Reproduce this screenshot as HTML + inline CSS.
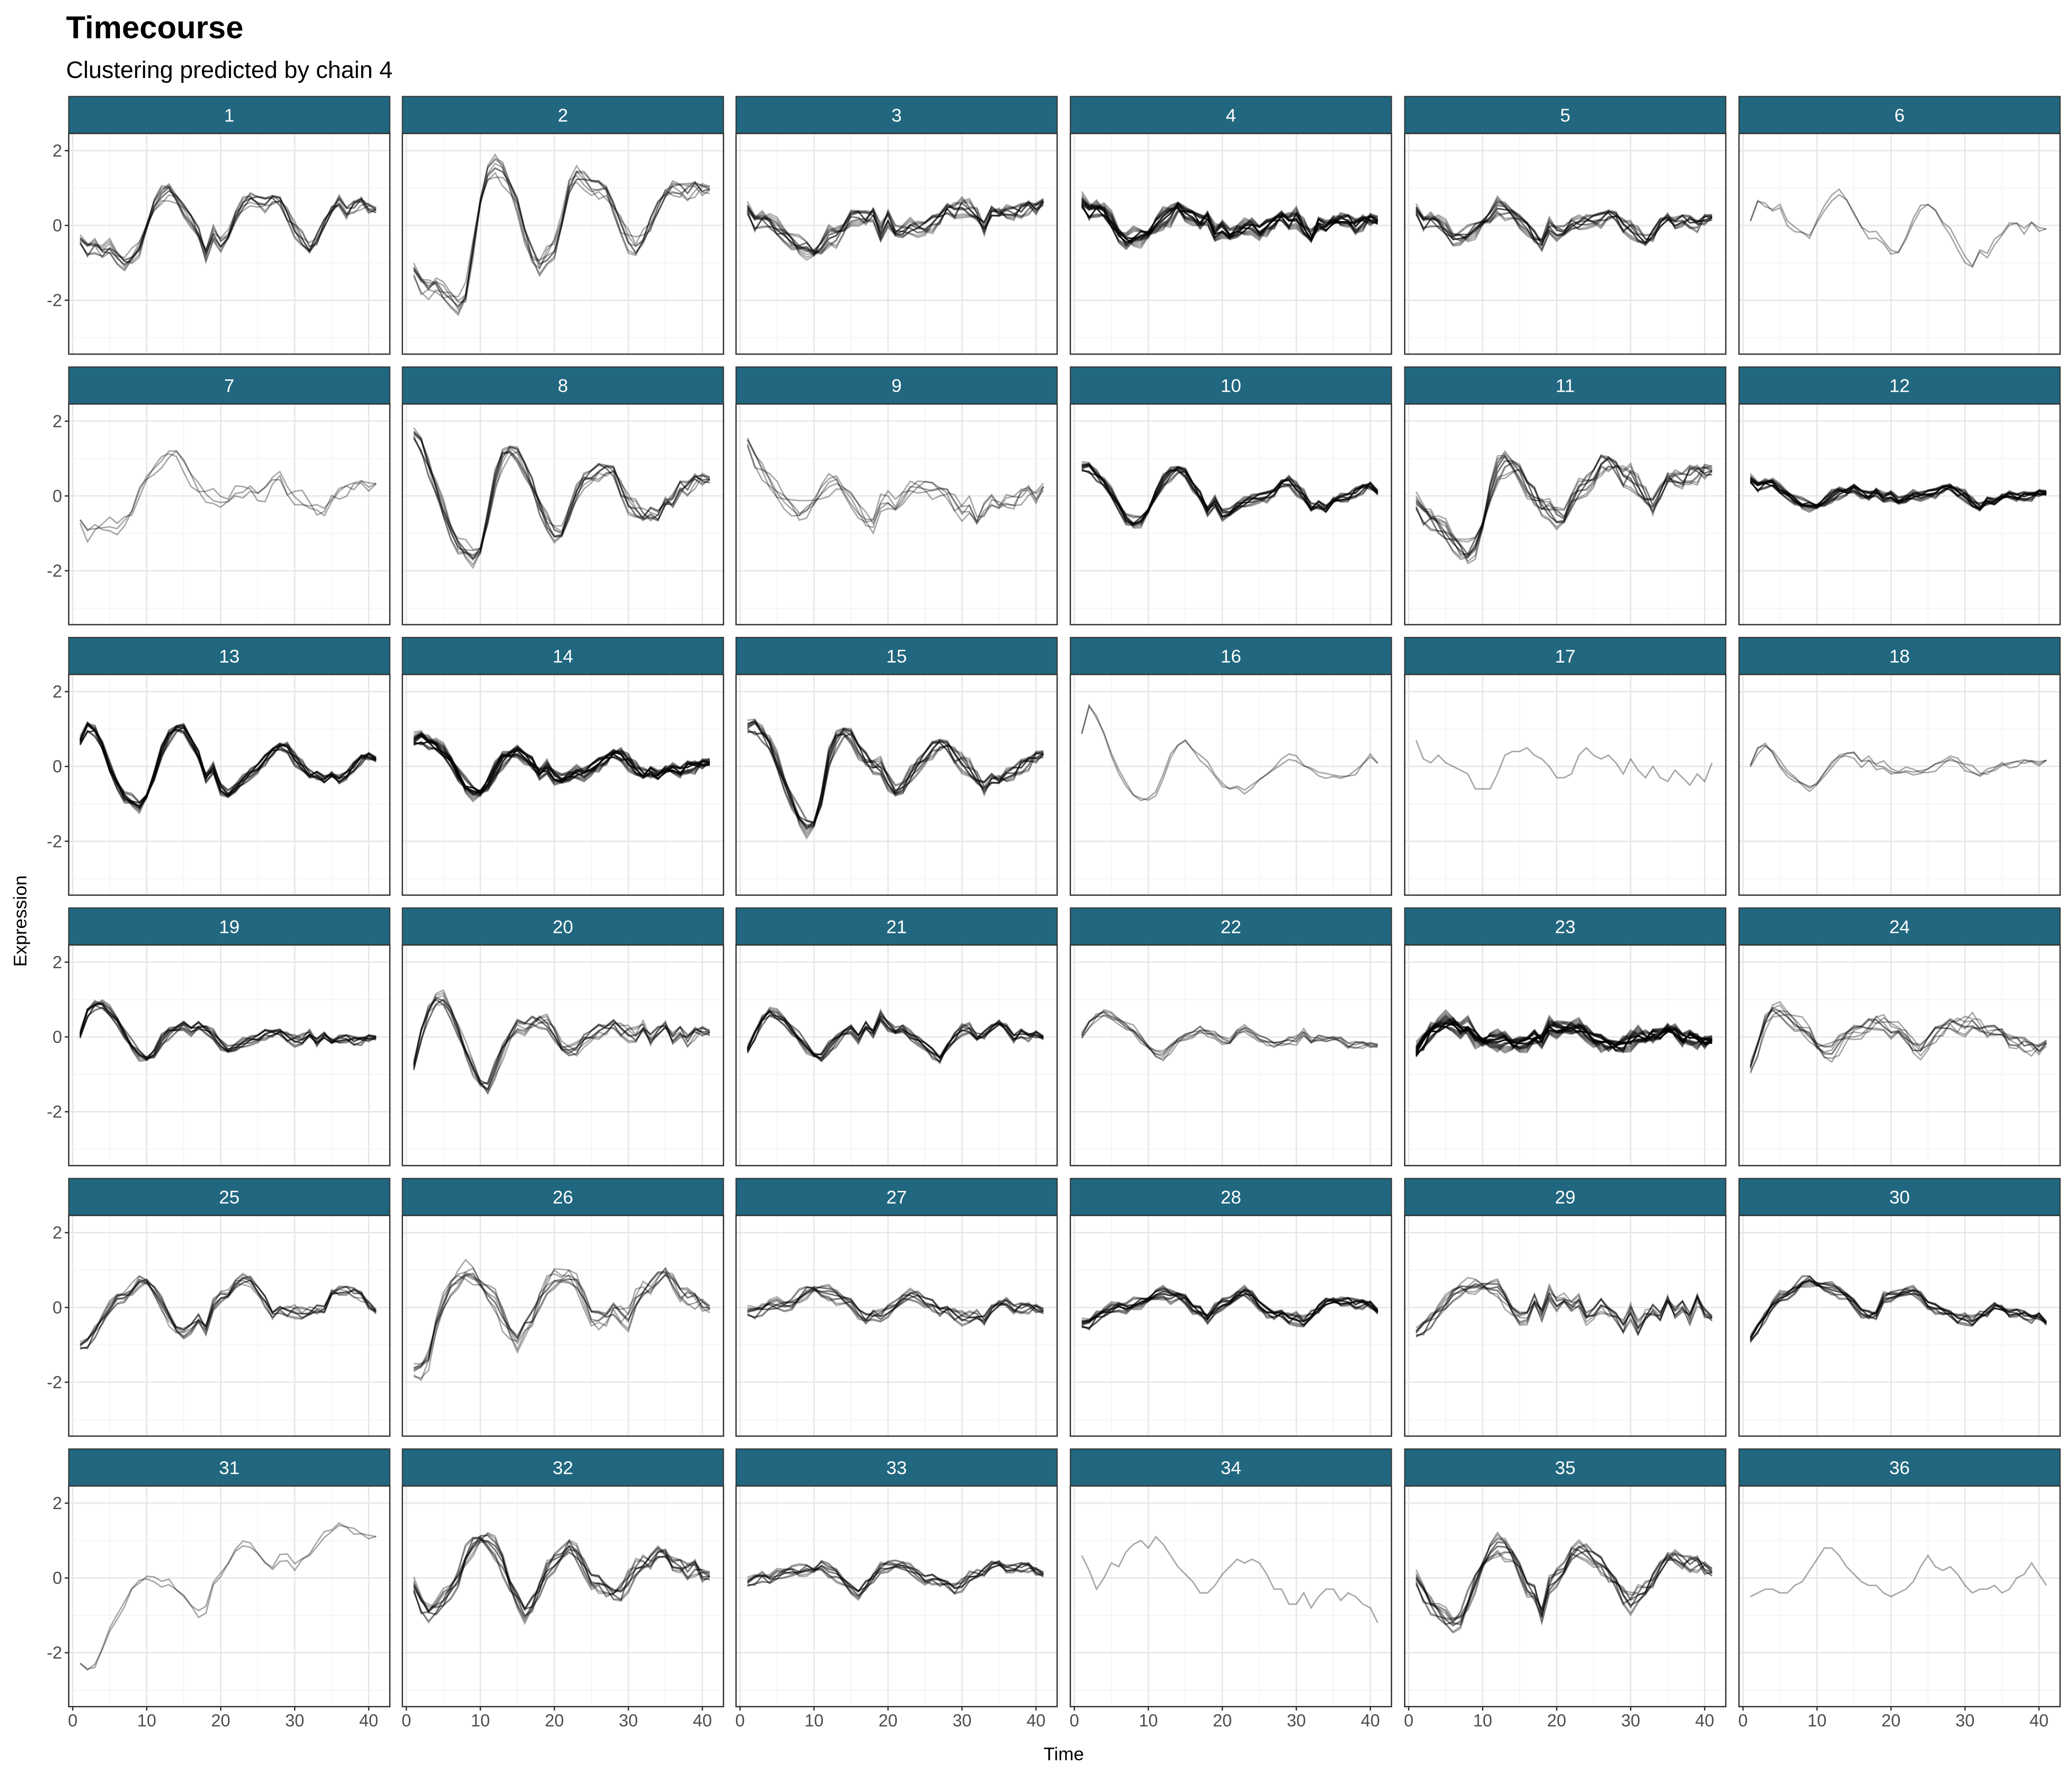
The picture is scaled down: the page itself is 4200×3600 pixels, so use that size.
<!DOCTYPE html>
<html><head><meta charset="utf-8"><style>
html,body{margin:0;padding:0;background:#fff;}
svg{display:block;font-family:"Liberation Sans",Arial,sans-serif;}
</style></head><body>
<svg id="chart" xmlns="http://www.w3.org/2000/svg" width="4200" height="3600" viewBox="0 0 1568 1344" preserveAspectRatio="none">
<rect x="0" y="0" width="1568" height="1344" fill="#fff"/>
<text x="50" y="29" font-size="24" font-weight="bold" fill="#000">Timecourse</text>
<text x="50" y="59" font-size="18" fill="#000">Clustering predicted by chain 4</text>
<text x="805" y="1332" font-size="14" text-anchor="middle" fill="#000">Time</text>
<text transform="translate(20,697) rotate(-90)" font-size="14" text-anchor="middle" fill="#000">Expression</text>
<g id="panels"></g>
</svg>
<script>
const clusterLabels = ["1","2","3","4","5","6","7","8","9","10","11","12","13","14","15","16","17","18","19","20","21","22","23","24","25","26","27","28","29","30","31","32","33","34","35","36"];
const lineCounts = [10,8,15,30,15,2,3,10,5,20,12,25,20,30,15,2,1,3,15,10,15,6,40,8,10,8,12,20,10,15,2,12,12,1,12,1];
const spreads = [0.25,0.35,0.25,0.18,0.22,0.25,0.3,0.3,0.35,0.15,0.35,0.12,0.15,0.15,0.25,0.2,0,0.15,0.15,0.25,0.15,0.15,0.15,0.3,0.2,0.35,0.2,0.15,0.25,0.15,0.25,0.3,0.18,0,0.3,0];
const xTicks = [0,10,20,30,40];
const yTicks = [-2,0,2];
const profiles = [
[-0.6,-0.7,-0.6,-0.8,-0.7,-0.9,-1.0,-0.8,-0.5,0.1,0.6,0.8,0.9,0.7,0.4,0.2,-0.2,-0.8,-0.3,-0.5,-0.2,0.2,0.5,0.7,0.7,0.6,0.7,0.6,0.3,-0.1,-0.4,-0.6,-0.3,0.0,0.3,0.6,0.4,0.5,0.6,0.5,0.3],
[-1.5,-1.7,-1.8,-1.7,-1.9,-2.0,-2.1,-1.8,-0.5,0.8,1.5,1.6,1.4,1.0,0.5,-0.2,-0.8,-1.1,-0.9,-0.6,0.2,1.0,1.3,1.2,1.1,1.0,0.9,0.4,0.0,-0.4,-0.6,-0.3,0.1,0.4,0.7,0.9,1.0,0.9,1.0,1.0,0.8],
[0.2,0.0,0.1,0.0,-0.2,-0.3,-0.4,-0.5,-0.5,-0.6,-0.5,-0.3,-0.3,-0.1,0.2,0.3,0.2,0.3,-0.3,0.2,-0.1,-0.2,-0.1,-0.1,0.0,0.1,0.2,0.4,0.4,0.5,0.4,0.3,0.0,0.3,0.2,0.3,0.4,0.4,0.5,0.5,0.5],
[0.4,0.3,0.4,0.3,0.0,-0.3,-0.4,-0.3,-0.2,-0.1,0.1,0.2,0.3,0.5,0.3,0.3,0.1,0.2,-0.3,-0.1,-0.2,-0.2,-0.1,0.0,-0.1,0.0,0.1,0.2,0.1,0.2,-0.1,-0.3,0.1,-0.1,0.0,0.1,0.2,0.0,0.1,0.2,0.0],
[0.2,0.0,0.1,0.0,-0.2,-0.4,-0.3,-0.2,0.0,0.2,0.3,0.5,0.4,0.3,0.1,0.0,-0.3,-0.5,-0.1,-0.2,-0.1,0.0,0.0,0.1,0.2,0.2,0.3,0.2,0.0,-0.1,-0.3,-0.4,-0.2,0.0,0.1,0.0,0.2,0.1,0.0,0.2,0.1],
[-0.1,0.5,0.4,0.3,0.5,0.1,0.0,-0.1,-0.2,0.2,0.5,0.7,0.8,0.6,0.2,-0.1,-0.3,-0.2,-0.4,-0.6,-0.6,-0.3,0.1,0.4,0.5,0.3,0.0,-0.2,-0.5,-0.8,-1.0,-0.6,-0.8,-0.5,-0.3,-0.1,0.0,-0.2,0.0,-0.1,-0.2],
[-0.9,-1.1,-1.0,-1.0,-0.9,-0.9,-0.6,-0.3,0.3,0.6,0.7,0.8,1.0,1.1,0.8,0.5,0.2,0.0,-0.1,-0.1,0.0,0.1,0.0,0.1,0.0,0.1,0.4,0.5,0.2,0.0,-0.1,-0.2,-0.3,-0.5,-0.2,0.0,0.2,0.2,0.3,0.3,0.2],
[1.4,1.3,0.7,0.1,-0.5,-1.0,-1.3,-1.4,-1.5,-1.3,-0.5,0.4,1.0,1.2,1.1,0.8,0.3,-0.3,-0.8,-1.0,-0.9,-0.5,0.0,0.4,0.6,0.7,0.7,0.6,0.2,-0.2,-0.4,-0.5,-0.4,-0.6,-0.3,-0.2,0.3,0.2,0.4,0.5,0.3],
[1.2,0.9,0.6,0.3,0.0,-0.2,-0.3,-0.4,-0.2,0.0,0.2,0.3,0.3,0.1,-0.1,-0.3,-0.6,-0.8,-0.3,-0.1,-0.2,-0.1,0.1,0.2,0.3,0.2,0.1,0.0,-0.2,-0.4,-0.3,-0.6,-0.3,-0.2,-0.4,-0.2,-0.1,0.0,0.1,0.0,0.1],
[0.6,0.7,0.5,0.3,0.0,-0.3,-0.6,-0.7,-0.6,-0.3,0.1,0.4,0.6,0.7,0.6,0.3,0.0,-0.4,-0.2,-0.5,-0.4,-0.3,-0.2,-0.1,0.0,0.0,0.1,0.3,0.4,0.2,0.0,-0.3,-0.2,-0.4,-0.2,-0.1,0.0,0.1,0.2,0.3,0.0],
[-0.5,-0.6,-0.7,-0.9,-1.1,-1.3,-1.4,-1.5,-1.2,-0.6,0.2,0.7,0.9,0.8,0.6,0.3,0.0,-0.3,-0.5,-0.6,-0.5,-0.2,0.1,0.3,0.6,0.9,0.9,0.7,0.5,0.5,0.2,0.0,-0.2,0.0,0.3,0.4,0.5,0.6,0.6,0.7,0.5],
[0.3,0.2,0.3,0.3,0.1,0.0,-0.1,-0.2,-0.2,-0.2,-0.1,0.0,0.1,0.1,0.2,0.1,0.0,0.1,-0.1,0.0,-0.1,-0.1,0.0,0.0,0.1,0.1,0.2,0.2,0.1,0.0,-0.2,-0.3,-0.1,-0.2,-0.1,0.0,0.0,0.0,0.0,0.1,0.0],
[0.5,1.0,0.9,0.5,-0.1,-0.5,-0.8,-0.9,-1.0,-0.7,-0.2,0.4,0.8,1.0,1.0,0.7,0.3,-0.3,-0.1,-0.6,-0.7,-0.6,-0.4,-0.2,0.0,0.2,0.4,0.5,0.5,0.2,0.0,-0.2,-0.2,-0.4,-0.3,-0.4,-0.2,0.0,0.2,0.3,0.1],
[0.5,0.7,0.6,0.5,0.3,0.1,-0.2,-0.5,-0.6,-0.6,-0.4,-0.1,0.2,0.3,0.4,0.3,0.1,-0.2,-0.1,-0.3,-0.3,-0.3,-0.2,-0.2,0.0,0.1,0.2,0.3,0.3,0.1,-0.1,-0.2,-0.1,-0.3,-0.2,-0.1,-0.1,0.0,0.0,0.1,0.0],
[0.8,1.0,0.8,0.5,0.0,-0.5,-0.9,-1.3,-1.5,-1.4,-0.8,0.2,0.7,0.9,0.8,0.5,0.2,0.0,-0.1,-0.4,-0.6,-0.6,-0.3,0.0,0.3,0.5,0.6,0.5,0.3,0.1,-0.1,-0.3,-0.5,-0.4,-0.5,-0.3,-0.1,0.0,0.1,0.3,0.2],
[0.7,1.5,1.2,0.8,0.3,-0.1,-0.4,-0.7,-0.8,-0.8,-0.7,-0.3,0.2,0.5,0.6,0.4,0.2,0.1,-0.2,-0.4,-0.5,-0.5,-0.7,-0.6,-0.4,-0.3,-0.1,0.1,0.3,0.3,0.1,0.0,-0.2,-0.3,-0.3,-0.4,-0.3,-0.2,0.0,0.3,0.0],
[0.7,0.2,0.1,0.3,0.1,0.0,-0.1,-0.2,-0.6,-0.6,-0.6,-0.2,0.3,0.4,0.4,0.5,0.3,0.2,0.0,-0.3,-0.3,-0.2,0.3,0.5,0.3,0.2,0.3,0.1,-0.2,0.2,-0.1,-0.3,0.0,-0.3,-0.4,-0.1,-0.3,-0.5,-0.2,-0.4,0.1],
[-0.1,0.4,0.5,0.3,0.0,-0.2,-0.3,-0.4,-0.5,-0.4,-0.2,0.0,0.2,0.3,0.3,0.1,0.2,0.0,0.0,-0.1,-0.1,-0.1,-0.2,-0.2,-0.1,0.0,0.1,0.2,0.2,0.0,-0.1,-0.2,-0.1,-0.1,0.0,0.0,0.1,0.1,0.1,0.1,0.1],
[-0.1,0.6,0.8,0.8,0.6,0.4,0.1,-0.2,-0.4,-0.5,-0.4,-0.1,0.1,0.2,0.3,0.2,0.3,0.2,0.0,-0.2,-0.3,-0.3,-0.2,-0.1,0.0,0.1,0.1,0.1,0.0,-0.1,-0.1,0.1,-0.1,0.0,-0.2,-0.1,0.0,-0.1,-0.1,0.0,-0.1],
[-1.0,0.0,0.6,0.9,0.9,0.6,0.2,-0.3,-0.7,-1.1,-1.3,-0.9,-0.4,0.0,0.3,0.3,0.4,0.4,0.3,0.1,-0.2,-0.4,-0.4,-0.1,0.1,0.2,0.2,0.3,0.2,0.1,0.0,0.3,0.0,0.1,0.2,-0.1,0.2,-0.1,0.1,0.2,0.0],
[-0.5,0.0,0.4,0.6,0.5,0.4,0.2,0.0,-0.2,-0.4,-0.5,-0.3,-0.1,0.1,0.2,0.0,0.3,0.1,0.5,0.3,0.2,0.2,0.0,-0.1,-0.2,-0.4,-0.6,-0.3,0.0,0.2,0.2,0.0,0.1,0.2,0.3,0.2,0.0,0.1,0.0,0.1,-0.1],
[-0.1,0.3,0.5,0.6,0.5,0.4,0.3,0.2,0.0,-0.2,-0.4,-0.5,-0.3,-0.1,0.0,0.1,0.2,0.1,0.0,-0.1,-0.1,0.1,0.2,0.1,0.0,-0.1,-0.2,-0.2,-0.1,-0.1,0.1,-0.1,0.0,-0.1,-0.1,-0.1,-0.2,-0.2,-0.2,-0.2,-0.3],
[-0.6,-0.2,0.1,0.2,0.3,0.3,0.2,0.3,0.1,0.0,0.0,-0.1,-0.1,-0.2,-0.2,-0.1,0.0,-0.1,0.2,0.2,0.3,0.2,0.2,0.1,0.0,-0.1,-0.2,-0.3,-0.2,-0.1,0.0,0.0,0.1,0.0,0.1,0.1,0.0,0.0,-0.1,-0.1,-0.2],
[-1.1,-0.4,0.3,0.6,0.6,0.5,0.4,0.3,0.2,-0.1,-0.3,-0.4,-0.2,0.0,0.1,0.2,0.3,0.4,0.3,0.2,0.3,0.0,-0.3,-0.4,-0.1,0.1,0.2,0.3,0.3,0.3,0.4,0.3,0.2,0.1,0.0,-0.2,-0.1,-0.2,-0.3,-0.3,-0.3],
[-1.2,-1.0,-0.7,-0.4,-0.1,0.2,0.3,0.5,0.8,0.8,0.5,0.1,-0.3,-0.6,-0.7,-0.5,-0.3,-0.6,0.0,0.3,0.4,0.6,0.7,0.7,0.5,0.2,-0.2,-0.1,-0.1,-0.1,-0.2,-0.1,0.0,-0.1,0.3,0.4,0.5,0.4,0.3,0.1,-0.2],
[-2.0,-1.8,-1.5,-0.6,0.0,0.5,0.8,1.0,1.0,0.8,0.5,0.2,-0.3,-0.7,-1.0,-0.5,-0.3,0.2,0.5,0.8,0.9,0.8,0.6,0.2,-0.2,-0.3,-0.3,-0.1,-0.2,-0.3,0.2,0.5,0.6,0.7,0.8,0.6,0.4,0.3,0.2,0.1,-0.2],
[-0.3,-0.2,-0.1,0.0,0.0,0.0,0.1,0.3,0.5,0.6,0.5,0.4,0.3,0.2,0.1,-0.1,-0.3,-0.2,-0.3,-0.1,0.1,0.2,0.3,0.3,0.2,0.1,-0.1,-0.1,-0.2,-0.3,-0.3,-0.2,-0.3,-0.1,0.0,0.1,0.0,0.0,0.0,0.0,-0.2],
[-0.6,-0.5,-0.3,-0.2,-0.1,0.0,0.0,0.1,0.2,0.3,0.4,0.4,0.3,0.3,0.2,0.0,-0.1,-0.3,-0.1,0.1,0.2,0.3,0.4,0.3,0.1,-0.1,-0.2,-0.2,-0.3,-0.3,-0.4,-0.2,0.0,0.1,0.1,0.1,0.2,0.1,0.1,0.1,-0.2],
[-0.9,-0.6,-0.4,-0.2,0.0,0.3,0.5,0.6,0.7,0.7,0.6,0.5,0.2,-0.1,-0.3,-0.2,0.2,-0.2,0.3,0.1,0.3,0.0,0.1,-0.3,-0.1,0.1,-0.1,-0.3,-0.5,-0.1,-0.6,-0.2,0.0,-0.3,0.1,-0.2,0.1,-0.3,0.2,-0.1,-0.4],
[-1.0,-0.6,-0.3,0.0,0.2,0.3,0.5,0.7,0.8,0.7,0.6,0.5,0.4,0.3,0.1,-0.1,-0.2,-0.2,0.2,0.3,0.4,0.4,0.4,0.3,0.1,0.0,-0.1,-0.2,-0.3,-0.3,-0.4,-0.2,-0.1,0.0,-0.1,-0.2,-0.1,-0.2,-0.3,-0.2,-0.5],
[-2.5,-2.6,-2.5,-2.0,-1.4,-1.0,-0.6,-0.2,0.0,0.1,0.0,-0.2,-0.2,-0.4,-0.6,-0.8,-1.0,-0.8,-0.1,0.2,0.5,0.8,0.9,0.8,0.6,0.3,0.2,0.5,0.6,0.4,0.6,0.7,0.9,1.1,1.2,1.3,1.3,1.2,1.1,1.1,1.0],
[-0.5,-0.8,-1.0,-0.9,-0.7,-0.4,0.0,0.6,1.0,1.2,1.1,0.8,0.4,-0.2,-0.6,-0.9,-0.7,-0.3,0.1,0.4,0.7,0.8,0.6,0.3,0.0,-0.1,-0.3,-0.5,-0.4,-0.1,0.2,0.4,0.5,0.6,0.5,0.3,0.4,0.2,0.3,0.1,-0.1],
[-0.3,-0.1,0.0,-0.1,0.0,0.1,0.2,0.2,0.3,0.3,0.4,0.2,0.1,-0.1,-0.3,-0.4,-0.2,0.0,0.2,0.3,0.4,0.3,0.2,0.1,0.0,0.0,-0.1,-0.2,-0.3,-0.2,0.0,0.1,0.2,0.3,0.3,0.2,0.3,0.3,0.3,0.2,0.0],
[0.6,0.2,-0.3,0.0,0.4,0.3,0.7,0.9,1.0,0.8,1.1,0.9,0.6,0.3,0.1,-0.1,-0.4,-0.4,-0.2,0.1,0.3,0.5,0.4,0.5,0.4,0.1,-0.3,-0.3,-0.7,-0.7,-0.4,-0.8,-0.5,-0.3,-0.3,-0.6,-0.4,-0.5,-0.7,-0.8,-1.2],
[-0.3,-0.5,-0.8,-1.0,-1.2,-1.3,-1.1,-0.6,0.0,0.5,0.8,0.9,0.8,0.6,0.2,-0.2,-0.4,-1.0,-0.3,0.0,0.3,0.6,0.7,0.7,0.6,0.4,0.1,-0.2,-0.5,-0.7,-0.5,-0.3,0.0,0.2,0.4,0.5,0.5,0.4,0.4,0.3,0.0],
[-0.5,-0.4,-0.3,-0.3,-0.4,-0.4,-0.2,-0.1,0.2,0.5,0.8,0.8,0.6,0.3,0.1,-0.1,-0.2,-0.2,-0.4,-0.5,-0.4,-0.3,-0.1,0.3,0.6,0.3,0.2,0.3,0.1,-0.2,-0.4,-0.3,-0.3,-0.2,-0.4,-0.3,0.0,0.1,0.4,0.1,-0.2]
];
const devPatterns = [
[1,0.8,0.5,0.6,0.3,0.1,-0.2,-0.4,-0.3,-0.6,-0.5,-0.2,0.1,0.4,0.5,0.3,0.6,0.2,-0.1,-0.3,-0.6,-0.4,-0.2,0.1,0.3,0.5,0.4,0.6,0.2,-0.1,-0.4,-0.5,-0.3,-0.1,0.2,0.5,0.3,0.6,0.4,0.2,0.5],
[-0.8,-0.5,-0.7,-0.3,0.1,0.4,0.6,0.3,0.5,0.2,-0.1,-0.4,-0.6,-0.3,-0.5,-0.2,0.2,0.5,0.3,0.6,0.4,0.1,-0.3,-0.5,-0.2,-0.4,-0.1,0.2,0.5,0.7,0.4,0.2,-0.2,-0.5,-0.3,-0.6,-0.2,0.1,-0.3,0.2,-0.4],
[0.4,-0.3,0.2,0.6,0.8,0.4,0.1,-0.5,-0.8,-0.4,0.2,0.6,0.3,-0.1,-0.4,-0.6,-0.2,0.3,0.7,0.2,-0.2,0.4,0.6,0.2,-0.3,-0.6,-0.2,0.1,-0.4,0.3,0.6,0.1,-0.5,0.2,0.5,-0.2,-0.5,0.3,0.1,-0.4,0.3],
[-0.5,0.3,0.6,0.1,-0.4,-0.7,-0.3,0.2,0.6,0.8,0.4,-0.2,-0.5,0.0,0.4,0.6,0.1,-0.6,-0.3,0.3,0.5,-0.2,-0.5,-0.1,0.4,0.2,-0.3,-0.6,-0.1,0.3,-0.2,0.4,0.6,0.2,-0.3,0.1,0.5,-0.3,-0.6,0.4,-0.2],
[0.9,0.6,0.2,-0.2,-0.1,0.3,0.5,0.7,0.2,-0.3,-0.7,-0.8,-0.3,0.2,0.1,-0.3,-0.5,-0.1,0.3,0.6,0.3,0.5,0.1,-0.3,-0.5,-0.1,0.3,0.2,0.6,0.3,0.1,-0.2,0.3,0.6,0.4,0.0,-0.4,-0.6,-0.2,0.3,0.6],
[-1,-0.6,-0.2,-0.4,-0.6,-0.2,0.3,0.1,-0.1,0.3,0.6,0.4,0.7,0.3,-0.2,-0.1,-0.4,0.1,-0.5,-0.4,0.1,-0.1,0.3,0.5,0.6,0.2,0.4,-0.2,-0.3,-0.6,-0.2,-0.4,0.1,-0.2,-0.5,-0.3,0.2,0.4,0.5,-0.1,-0.5]
];

const NS = "http://www.w3.org/2000/svg";
const g = document.getElementById("panels");
const colX = [52,304.5,557,810,1063,1316];
const PW = 243, SH = 28, PH = 167, ROW0 = 73, ROWP = 204.7;
const XMIN = -0.54, XPX = 5.6, YMAX = 2.46, YPX = 28.3;
function mk(tag, attrs, parent) {
  const el = document.createElementNS(NS, tag);
  for (const k in attrs) el.setAttribute(k, attrs[k]);
  parent.appendChild(el);
  return el;
}
function xs(px, t) { return px + (t - XMIN) * XPX; }
function ys(py, v) { return py + (YMAX - v) * YPX; }

clusterLabels.forEach((lab, p) => {
  const r = Math.floor(p / 6), c = p % 6;
  const px = colX[c], sy = ROW0 + r * ROWP, py = sy + SH;
  const pg = mk("g", {}, g);
  
  
  const strip = mk("rect", {x: px, y: sy, width: PW, height: SH, fill: "#21677f", stroke: "#333", "stroke-width": 0.8}, pg);
  
  
  const st = mk("text", {x: px + PW / 2, y: sy + 19, "font-size": 14, fill: "#fff", "text-anchor": "middle"}, pg);
  st.textContent = lab;
  
  
  [-3, -1, 1].forEach(v => mk("line", {x1: px, x2: px + PW, y1: ys(py, v), y2: ys(py, v), stroke: "#f3f3f3", "stroke-width": 0.6}, pg));
  [5, 15, 25, 35].forEach(t => mk("line", {x1: xs(px, t), x2: xs(px, t), y1: py, y2: py + PH, stroke: "#f3f3f3", "stroke-width": 0.6}, pg));
  yTicks.forEach(v => mk("line", {x1: px, x2: px + PW, y1: ys(py, v), y2: ys(py, v), stroke: "#e6e6e6", "stroke-width": 1}, pg));
  xTicks.forEach(t => mk("line", {x1: xs(px, t), x2: xs(px, t), y1: py, y2: py + PH, stroke: "#e6e6e6", "stroke-width": 1}, pg));
  const prof = profiles[p], n = lineCounts[p], s = spreads[p] * 1.4;
  for (let k = 0; k < n; k++) {
    const dv = devPatterns[k % devPatterns.length];
    const amp = n === 1 ? 0 : s * (1 + Math.floor(k / 6) * 0.25) * (k % 2 ? -1 : 1) * (0.6 + 0.4 * ((k % 3) / 2));
    let d = "";
    prof.forEach((v, i) => {
      const val = v + amp * dv[i];
      d += (i ? "L" : "M") + xs(px, i + 1).toFixed(2) + "," + ys(py, val).toFixed(2);
    });
    const pl = mk("path", {d: d, fill: "none", stroke: "#000", "stroke-opacity": 0.34, "stroke-width": 1.1}, pg);
    
    
  }
  const bd = mk("rect", {x: px, y: py, width: PW, height: PH, fill: "none", stroke: "#333", "stroke-width": 1}, pg);
  
  
  if (c === 0) {
    yTicks.forEach(v => {
      mk("line", {x1: px - 3, x2: px, y1: ys(py, v), y2: ys(py, v), stroke: "#333", "stroke-width": 1}, pg);
      const tl = mk("text", {x: px - 5, y: ys(py, v) + 4.5, "font-size": 13, fill: "#4d4d4d", "text-anchor": "end"}, pg);
      tl.textContent = v;
      
      
    });
  }
  if (r === 5) {
    xTicks.forEach(t => {
      mk("line", {x1: xs(px, t), x2: xs(px, t), y1: py + PH, y2: py + PH + 3, stroke: "#333", "stroke-width": 1}, pg);
      const tl = mk("text", {x: xs(px, t), y: py + PH + 15, "font-size": 13, fill: "#4d4d4d", "text-anchor": "middle"}, pg);
      tl.textContent = t;
      
      
    });
  }
});
</script>
</body></html>
